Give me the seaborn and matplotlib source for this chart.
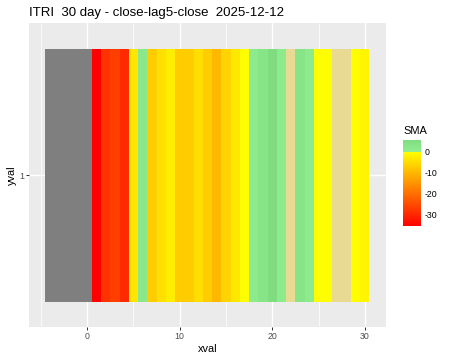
import numpy as np
import pandas as pd
import matplotlib
matplotlib.use("Agg")
import matplotlib.pyplot as plt
import seaborn as sns
from matplotlib.colors import LinearSegmentedColormap, Normalize
from matplotlib.cm import ScalarMappable

# ---- data ----
title = "ITRI  30 day - close-lag5-close  2025-12-12"
na_days = [-4, -3, -2, -1, 0]
days = list(range(1, 31))
sma = [-35.4, -28.3, -26.8, -29.6, -3.5, 2.0, -7.1, -4.3, -2.6, -7.1,
       -7.1, -4.7, -7.1, -9.9, -6.0, -3.2, -0.2, 1.0, 3.0, 5.6,
       1.0, 0.0, 3.0, 1.0, -0.2, -0.2, 0.0, 0.0, -0.2, -1.5]
x_ticks = [0, 10, 20, 30]
legend_ticks = [0, -10, -20, -30]

# ---- theme ----
sns.set_theme(style="darkgrid", rc={
    "axes.facecolor": "#EBEBEB",
    "grid.color": "white",
    "figure.facecolor": "white",
})
plt.rcParams["font.family"] = ["Liberation Sans", "DejaVu Sans"]

vmin, vmax = min(sma), max(sma)
norm = Normalize(vmin, vmax)
p0 = (0 - vmin) / (vmax - vmin)
eps = 0.05 / (vmax - vmin)
cmap = LinearSegmentedColormap.from_list("sma", [
    (0.0, "#FF0000"),
    (p0 - eps, "#FFFF00"),
    (p0 - eps, "#E8DA92"),
    (p0 + eps, "#E8DA92"),
    (p0 + eps, "#90EE90"),
    (1.0, "#80DC80"),
], N=4096)

fig = plt.figure(figsize=(6.25, 5), dpi=72)
ax = fig.add_axes([29.3 / 450, 1 - 327 / 360, (385.6 - 29.3) / 450, 303.6 / 360])

df = pd.DataFrame({"xval": days, "yval": 1.0, "SMA": sma})
df_na = pd.DataFrame({"xval": na_days, "yval": 1.0})

sns.barplot(data=df_na, x="xval", y="yval", color="#7F7F7F", native_scale=True,
            width=1, saturation=1, errorbar=None, bottom=0.5, linewidth=0, ax=ax)
sns.barplot(data=df, x="xval", y="yval", hue="SMA", palette=cmap, hue_norm=norm,
            native_scale=True, width=1, saturation=1, errorbar=None, legend=False,
            bottom=0.5, linewidth=0, ax=ax)

ax.set_xlim(-6.25, 32.25)
ax.set_ylim(0.4, 1.6)
ax.set_xticks(x_ticks)
ax.set_xticklabels([str(t) for t in x_ticks])
ax.set_xticks([-5, 5, 15, 25], minor=True)
ax.set_yticks([1])
ax.set_yticklabels(["1"])
ax.grid(which="major", color="white", linewidth=1.4)
ax.grid(which="minor", axis="x", color="white", linewidth=0.7)
ax.set_axisbelow(True)
for s in ax.spines.values():
    s.set_visible(False)
ax.tick_params(axis="both", which="major", length=2.75, width=1.0, color="#333333",
               labelsize=8.8, labelcolor="#4D4D4D", pad=2.2, direction="out",
               bottom=True, left=True)
ax.tick_params(axis="x", which="minor", length=0)
ax.set_xlabel("xval", fontsize=11, color="black", labelpad=2.75)
ax.set_ylabel("yval", fontsize=11, color="black", labelpad=2.75)

fig.text(29.3 / 450, 1 - 16.3 / 360, title, fontsize=13.2, color="black",
         ha="left", va="baseline")

# ---- legend (colorbar) ----
cax = fig.add_axes([403 / 450, 1 - 226 / 360, 17.7 / 450, 86 / 360])
sm = ScalarMappable(norm=norm, cmap=cmap)
cb = fig.colorbar(sm, cax=cax)
cb.outline.set_visible(False)
cb.set_ticks(legend_ticks)
cb.set_ticklabels([str(t) for t in legend_ticks])
cax.tick_params(axis="y", direction="in", length=3.5, width=0.5, color="white",
                left=True, right=True, labelleft=False, labelright=True,
                labelsize=8.8, labelcolor="black", pad=4.4)
cax.grid(False)
fig.text(403 / 450, 1 - 134.5 / 360, "SMA", fontsize=11, color="black",
         ha="left", va="baseline")

fig.savefig("out.png", dpi=72)
